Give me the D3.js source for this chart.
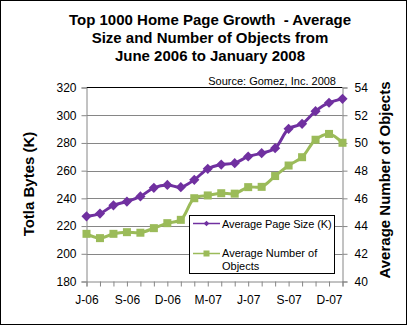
<!DOCTYPE html>
<html><head><meta charset="utf-8">
<script src="https://cdn.jsdelivr.net/npm/d3@7"></script>
<style>body{margin:0;background:#fff}svg{display:block;font-family:"Liberation Sans",Arial,sans-serif}</style>
</head><body><svg id="c" width="408" height="326"></svg>
<script>
const months = ["J-06","J-06","A-06","S-06","O-06","N-06","D-06","J-07","F-07","M-07","A-07","M-07","J-07","J-07","A-07","S-07","O-07","N-07","D-07","J-08"];
const xTickLabels = ["J-06","S-06","D-06","M-07","J-07","S-07","D-07"];
const xTickIdx = [0,3,6,9,12,15,18];
const pageSize = [227,229,235,237.7,241.4,247.6,249.7,248.1,253.4,261.3,264.4,265.4,270.2,272.6,276.2,290.2,293.8,302.9,309,311.8];
const numObjects = [43.44,43.13,43.44,43.56,43.52,43.85,44.21,44.45,46.01,46.21,46.37,46.34,46.81,46.83,47.61,48.37,48.97,50.23,50.65,50.01];
const leftTicks = [180,200,220,240,260,280,300,320];
const rightTicks = [40,42,44,46,48,50,52,54];
const titleLines = ["Top 1000 Home Page Growth  - Average","Size and Number of Objects from","June 2006 to January 2008"];

const svg = d3.select("#c");
const L=86.5, R=342.5, T=87.5, B=281.5;
const x = d3.scalePoint().domain(d3.range(months.length)).range([L,R]);
const yL = d3.scaleLinear().domain([180,320]).range([B,T]);
const yR = d3.scaleLinear().domain([40,54]).range([B,T]);
const gray="#868686";

svg.append("rect").attr("x",0.5).attr("y",0.5).attr("width",406).attr("height",324).attr("fill","#fff").attr("stroke","#000");

// title
svg.append("text").attr("x",210).attr("text-anchor","middle").attr("font-weight","bold").attr("font-size",15)
  .style("white-space","pre").attr("xml:space","preserve")
  .selectAll("tspan").data(titleLines).join("tspan").attr("x",210).attr("y",(d,i)=>24.5+i*18.3).text(d=>d);

// gridlines
svg.append("g").selectAll("line").data(leftTicks.slice(1,-1)).join("line")
  .attr("x1",L).attr("x2",R).attr("y1",d=>Math.round(yL(d))+0.5).attr("y2",d=>Math.round(yL(d))+0.5).attr("stroke",gray);
svg.append("line").attr("x1",L).attr("x2",R).attr("y1",T).attr("y2",T).attr("stroke","#000");

// axes
const gl = svg.append("g").attr("transform",`translate(${L},0)`).call(d3.axisLeft(yL).tickValues(leftTicks).tickSize(5).tickPadding(5));
const gr = svg.append("g").attr("transform",`translate(${R},0)`).call(d3.axisRight(yR).tickValues(rightTicks).tickSize(5).tickPadding(7));
const gb = svg.append("g").attr("transform",`translate(0,${B})`).call(d3.axisBottom(x).tickSize(5).tickPadding(9).tickFormat(i=>{const k=xTickIdx.indexOf(i);return k>=0?xTickLabels[k]:"";}));
[gl,gr,gb].forEach(g=>{g.select(".domain").attr("stroke",gray);g.selectAll(".tick line").attr("stroke",gray);
  g.selectAll("text").attr("font-size",12).attr("fill","#000").attr("font-family","Liberation Sans, Arial, sans-serif");});

// axis titles
svg.append("text").attr("transform","translate(34,184) rotate(-90)").attr("text-anchor","middle").attr("font-weight","bold").attr("font-size",15).text("Totla Bytes (K)");
svg.append("text").attr("transform","translate(390,180) rotate(-90)").attr("text-anchor","middle").attr("font-weight","bold").attr("font-size",15).text("Average Number of Objects");

// source
svg.append("text").attr("x",336).attr("y",85).attr("text-anchor","end").attr("font-size",11).text("Source: Gomez, Inc. 2008");

const purple="#7030A0", green="#9BBB59";
const curve=d3.curveCatmullRom.alpha(0.5);
svg.append("path").datum(pageSize).attr("fill","none").attr("stroke",purple).attr("stroke-width",3)
  .attr("d",d3.line().x((d,i)=>x(i)).y(d=>yL(d)).curve(curve));
svg.append("path").datum(numObjects).attr("fill","none").attr("stroke",green).attr("stroke-width",3)
  .attr("d",d3.line().x((d,i)=>x(i)).y(d=>yR(d)).curve(curve));
const diamond=d3.symbol().type(d3.symbolDiamond2).size(50);
svg.append("g").selectAll("path").data(pageSize).join("path").attr("d",diamond)
  .attr("transform",(d,i)=>`translate(${x(i)},${yL(d)}) scale(1.15)`).attr("fill",purple);
svg.append("g").selectAll("rect").data(numObjects).join("rect")
  .attr("x",(d,i)=>x(i)-4).attr("y",d=>yR(d)-4).attr("width",8).attr("height",8).attr("fill",green);

// legend
const lg = svg.append("g");
lg.append("rect").attr("x",189.5).attr("y",215.5).attr("width",145).attr("height",58).attr("fill","#fff").attr("stroke","#000");
lg.append("line").attr("x1",193).attr("x2",220).attr("y1",223.5).attr("y2",223.5).attr("stroke",purple).attr("stroke-width",1.5);
lg.append("path").attr("d",d3.symbol().type(d3.symbolDiamond2).size(20)).attr("transform","translate(206.5,223.5)").attr("fill",purple);
lg.append("line").attr("x1",193).attr("x2",220).attr("y1",253.5).attr("y2",253.5).attr("stroke",green).attr("stroke-width",1.5);
lg.append("rect").attr("x",203.5).attr("y",250.5).attr("width",6).attr("height",6).attr("fill",green);
lg.append("text").attr("x",222).attr("y",227.5).attr("font-size",11).attr("letter-spacing",-0.1).text("Average Page Size (K)");
lg.append("text").attr("x",222).attr("y",257).attr("font-size",11).text("Average Number of");
lg.append("text").attr("x",222).attr("y",269.5).attr("font-size",11).text("Objects");
</script></body></html>
